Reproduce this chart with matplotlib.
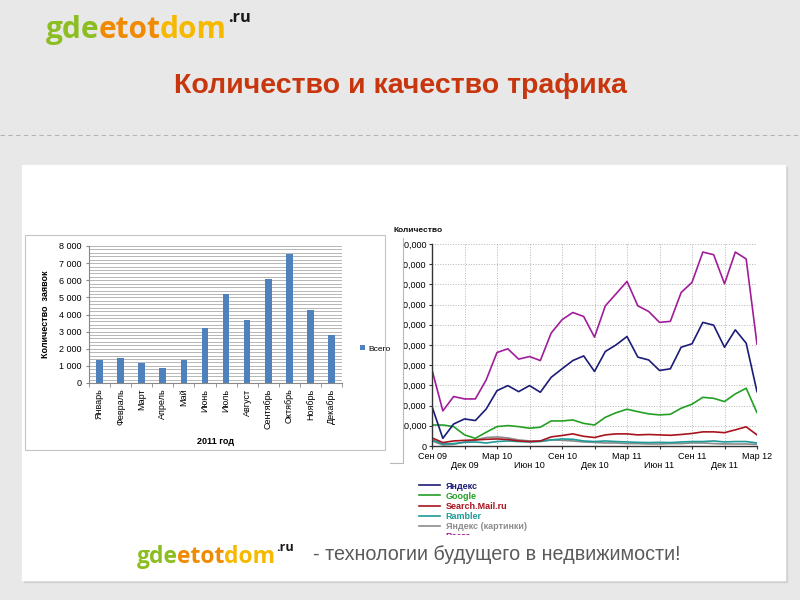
import matplotlib
matplotlib.use('Agg')
import matplotlib.pyplot as plt
import numpy as np
from matplotlib.patches import Rectangle
from matplotlib.transforms import Bbox, TransformedBbox
from matplotlib.ticker import MultipleLocator, FuncFormatter

plt.rcParams['font.family'] = ['Liberation Sans', 'DejaVu Sans']

# --- bar chart: requests per month, 2011
months = ['Январь', 'Февраль', 'Март', 'Апрель', 'Май', 'Июнь', 'Июль',
          'Август', 'Сентябрь', 'Октябрь', 'Ноябрь', 'Декабрь']
requests_2011 = [1350, 1480, 1170, 870, 1350, 3200, 5200, 3700, 6100, 7550, 4280, 2800]

# --- line chart: traffic by source, monthly Sep 09 .. Mar 12
quarter_labels = ['Сен 09', 'Дек 09', 'Мар 10', 'Июн 10', 'Сен 10', 'Дек 10',
                  'Мар 11', 'Июн 11', 'Сен 11', 'Дек 11', 'Мар 12']
yandex = [19500, 3800, 10900, 13400, 12600, 18300, 27400, 29900, 26900, 29900, 26600,
          34000, 38200, 42300, 44600, 36900, 46800, 50100, 54200, 44000, 42600, 37400,
          38200, 48900, 50600, 61200, 59800, 48900, 57500, 50900, 26900]
google = [10400, 10400, 9600, 5500, 3800, 6800, 9600, 10100, 9600, 8800, 9300,
          12400, 12400, 12900, 11200, 10400, 14200, 16500, 18200, 17000, 15900, 15400,
          15700, 18700, 20700, 24100, 23600, 22000, 25800, 28600, 16500]
mail_ru = [4000, 1700, 2500, 2800, 3000, 3300, 3500, 3200, 2500, 2200, 2500,
           4500, 5200, 6000, 4800, 4200, 5500, 6000, 6000, 5500, 5700, 5500,
           5300, 5700, 6200, 7000, 7000, 6600, 8000, 9500, 5500]
rambler = [3000, 1000, 1200, 1800, 2000, 1500, 2200, 2500, 2200, 2000, 2200,
           3000, 3500, 3300, 2500, 2200, 2500, 2200, 2000, 1800, 1700, 1800,
           1700, 2000, 2200, 2200, 2500, 2000, 2200, 2200, 1500]
yandex_img = [2500, 500, 800, 2000, 3000, 4200, 4500, 4000, 3000, 2500, 2500,
              3000, 2800, 2500, 2000, 1800, 1500, 1500, 1200, 1200, 1000, 1000,
              1200, 1200, 1500, 1500, 1200, 1000, 1000, 1000, 800]
total = [37700, 17400, 24500, 23300, 23300, 32700, 46300, 48100, 43000, 44300, 42300,
         55900, 62500, 66100, 64100, 53900, 69400, 75400, 81500, 69400, 66600, 61200,
         61700, 76000, 81000, 96000, 94700, 80300, 96000, 92600, 50400]
source_names = ['Яндекс', 'Google', 'Search.Mail.ru', 'Rambler', 'Яндекс (картинки)', 'Всего']
source_colors = ['#1c1c78', '#23a023', '#a8141e', '#1f9a9a', '#8c8c8c', '#a01d9a']

logo_parts = ['gde', 'etot', 'dom']
logo_colors = ['#8cbe22', '#f08a00', '#f7b900']

fig = plt.figure(figsize=(8, 6), dpi=100)
renderer = fig.canvas.get_renderer()

# background layer in pixel coordinates
bg = fig.add_axes([0, 0, 1, 1], zorder=0)
bg.add_patch(Rectangle((0, 0), 800, 600, color='#e8e8e8'))
shade = np.ones((60, 1))
shade[40:, 0] = np.linspace(1, 0.86, 20)
bg.imshow(shade, cmap='gray', vmin=0, vmax=1, extent=(0, 800, 60, 0), aspect='auto')
bg.set_xlim(0, 800)
bg.set_ylim(600, 0)
bg.axis('off')

bg.text(400, 86, 'Количество и качество трафика', ha='center', va='center',
        fontsize=20.5, fontweight='bold', color='#c8360e')
bg.plot([0, 800], [135, 135], color='#b4b4b4', lw=0.8, ls=(0, (4, 3)))

# white panel with a soft shadow
bg.add_patch(Rectangle((24, 167), 763, 415, color='#d2d2d2'))
bg.add_patch(Rectangle((22, 165), 763, 415, color='white'))
bg.add_patch(Rectangle((25, 235), 360, 215, fc='white', ec='#c4c4c4', lw=0.8))
bg.plot([390, 403, 403], [463, 463, 238], color='#b8b8b8', lw=0.8)


def draw_logo(x, y, size):
    for part, color in zip(logo_parts, logo_colors):
        t = bg.text(x, y, part, fontsize=size, fontweight='bold', color=color,
                    family='Open Sans', va='baseline')
        x += t.get_window_extent(renderer).width - size * 0.05
    bg.text(x + size * 0.15, y - size * 0.75, '.ru', fontsize=size * 0.55,
            fontweight='bold', color='#1a1a1a', family='Open Sans', va='baseline')


draw_logo(46, 38, 21.5)
draw_logo(137, 563, 16.5)
bg.text(313, 555, '- технологии будущего в недвижимости!', ha='left', va='center',
        fontsize=14.2, color='#5a5a5a')

# --- left: bar chart
ax1 = fig.add_axes([89 / 800, 1 - 383 / 600, (342 - 89) / 800, (383 - 246) / 600])
x1 = np.arange(len(months))
ax1.bar(x1, requests_2011, width=0.32, color='#4f81bd', zorder=3, label='Всего')
ax1.set_xlim(-0.5, len(months) - 0.5)
ax1.set_ylim(0, 8000)
ax1.yaxis.set_major_locator(MultipleLocator(1000))
ax1.yaxis.set_minor_locator(MultipleLocator(200))
ax1.yaxis.set_major_formatter(FuncFormatter(lambda v, p: f'{int(v):,}'.replace(',', ' ')))
ax1.grid(which='both', axis='y', color='#9a9a9a', lw=0.5)
ax1.set_axisbelow(True)
ax1.set_xticks(x1)
ax1.set_xticklabels(months, rotation=90, fontsize=6.5)
ax1.set_xticks(np.arange(len(months) + 1) - 0.5, minor=True)
ax1.tick_params(axis='x', which='major', length=0, pad=4)
ax1.tick_params(axis='x', which='minor', length=3, color='#888888')
ax1.tick_params(axis='y', which='major', labelsize=6.5, length=2, color='#888888')
ax1.tick_params(axis='y', which='minor', length=0)
for s in ['top', 'right']:
    ax1.spines[s].set_visible(False)
for s in ['left', 'bottom']:
    ax1.spines[s].set_color('#888888')
    ax1.spines[s].set_linewidth(0.8)
ax1.set_ylabel('Количество  заявок', fontsize=6.5, fontweight='bold', labelpad=6)
ax1.set_xlabel('2011 год', fontsize=6.5, fontweight='bold', labelpad=6)
ax1.legend(loc='center left', bbox_to_anchor=(1.04, 0.25), frameon=False, fontsize=6,
           handlelength=0.6, handleheight=0.6, handletextpad=0.4)

# --- right: traffic lines
ax2 = fig.add_axes([432 / 800, 1 - 446 / 600, (757 - 432) / 800, (446 - 244) / 600])
series = [yandex, google, mail_ru, rambler, yandex_img, total]
draw_order = [4, 3, 2, 1, 0, 5]
x2 = np.arange(len(total))
handles = [None] * len(series)
for i in draw_order:
    (ln,) = ax2.plot(x2, series[i], color=source_colors[i], lw=1.2, label=source_names[i])
    handles[i] = ln
ax2.set_xlim(0, 30)
ax2.set_ylim(0, 100000)
ax2.set_yticks(np.arange(0, 100001, 10000))
ax2.yaxis.set_major_formatter(FuncFormatter(lambda v, p: f'{int(v):,}'))
ax2.set_xticks(np.arange(0, 31, 3))
ax2.set_xticklabels([lbl if i % 2 == 0 else '\n' + lbl for i, lbl in enumerate(quarter_labels)],
                    fontsize=6.5, linespacing=1.0)
ax2.tick_params(axis='both', labelsize=6.5, length=2.5, color='#333333', pad=1.5)
ax2.grid(color='#b4b4b4', ls=':', lw=0.7)
for s in ['top', 'right']:
    ax2.spines[s].set_visible(False)
for s in ['left', 'bottom']:
    ax2.spines[s].set_color('#333333')
    ax2.spines[s].set_linewidth(1.0)

fig.canvas.draw()
clip_left = TransformedBbox(Bbox([[404 / 800, 0], [1, 1]]), fig.transFigure)
for lbl in ax2.get_yticklabels():
    lbl.set_clip_box(clip_left)
    lbl.set_clip_on(True)

bg.text(393, 230, 'Количество', fontsize=6, fontweight='bold', color='#111111', va='center')

leg = ax2.legend(handles=handles, loc='upper left', bbox_to_anchor=(414 / 800, 1 - 477 / 600),
                 bbox_transform=fig.transFigure, frameon=False,
                 prop={'weight': 'bold', 'size': 6.5}, labelcolor='linecolor',
                 handlelength=2.4, handletextpad=0.6, labelspacing=0.12, borderpad=0)
clip_bottom = TransformedBbox(Bbox([[0, 1 - 535 / 600], [1, 1]]), fig.transFigure)
leg.get_texts()[-1].set_clip_box(clip_bottom)
leg.get_texts()[-1].set_clip_on(True)
leg.get_lines()[-1].set_clip_box(clip_bottom)
leg.get_lines()[-1].set_clip_on(True)

fig.savefig('out.png', dpi=100)
